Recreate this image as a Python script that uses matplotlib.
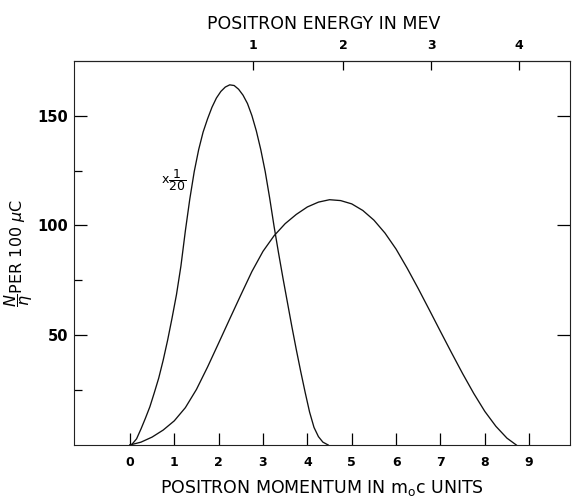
import numpy as np
import matplotlib
matplotlib.use('Agg')
import matplotlib.pyplot as plt
from matplotlib.ticker import FixedLocator

plt.rcParams['font.family'] = ['DejaVu Sans']
plt.rcParams['mathtext.fontset'] = 'dejavusans'

# spectre etroit (echelle x 1/20)
p_haut = [0.0, 0.05, 0.15, 0.25, 0.35, 0.45, 0.55, 0.65, 0.75, 0.85, 0.95, 1.05, 1.15,
          1.25, 1.35, 1.45, 1.55, 1.65, 1.75, 1.85, 1.95, 2.05, 2.15, 2.25, 2.35, 2.45,
          2.55, 2.65, 2.75, 2.85, 2.95, 3.05, 3.15, 3.25, 3.35, 3.45, 3.55, 3.65, 3.75,
          3.85, 3.95, 4.05, 4.15, 4.25, 4.35, 4.47]
n_haut = [0, 0.4, 2.8, 7.3, 12.2, 17.4, 23.8, 30.5, 38.6, 47.7, 57.8, 68.5, 81.5,
          97.5, 112, 124.5, 134.5, 142.5, 148.5, 153.8, 158, 161, 163, 164, 163.7, 162,
          159.3, 155.5, 150, 143, 134.5, 124.5, 112.5, 99.5, 87.5, 76, 65, 54, 43.5,
          33.5, 24, 15, 8, 3.8, 1.3, 0]

# spectre large
p_bas = [0.0, 0.25, 0.5, 0.75, 1.0, 1.25, 1.5, 1.75, 2.0, 2.25, 2.5, 2.75, 3.0, 3.25,
         3.5, 3.75, 4.0, 4.25, 4.5, 4.75, 5.0, 5.25, 5.5, 5.75, 6.0, 6.25, 6.5, 6.75,
         7.0, 7.25, 7.5, 7.75, 8.0, 8.25, 8.5, 8.71]
n_bas = [0, 1.3, 3.6, 6.8, 11, 17, 25.3, 35.5, 46.4, 57.4, 68.3, 79, 88.2, 95.3,
         100.8, 105, 108.4, 110.6, 111.7, 111.3, 109.8, 106.8, 102.4, 96.5, 89.2, 80.5,
         71.2, 61.5, 51.7, 42, 32.5, 23.5, 15.3, 8.5, 3.1, 0]

p_ticks = list(range(10))
e_ticks = [1, 2, 3, 4]
n_major = [50, 100, 150]
n_minor = [25, 75, 125]

me = 0.511  # MeV


def p2e(p):
    p = np.asarray(p, dtype=float)
    return np.sign(p) * (np.sqrt(p**2 + 1) - 1) * me


def e2p(e):
    e = np.asarray(e, dtype=float)
    g = np.abs(e) / me + 1
    return np.sign(e) * np.sqrt(g**2 - 1)


fig = plt.figure(figsize=(5.72, 5.0), dpi=100)
ax = fig.add_axes([74/572, 55/500, 496/572, 384.3/500])

cor = '#111111'
ax.plot(p_haut, n_haut, color=cor, lw=0.95)
ax.plot(p_bas, n_bas, color=cor, lw=0.95)

ax.set_xlim(-1.26, 9.92)
ax.set_ylim(0, 175)

for s in ax.spines.values():
    s.set_linewidth(0.8)
    s.set_color('#222222')

ax.xaxis.set_major_locator(FixedLocator(p_ticks))
ax.yaxis.set_major_locator(FixedLocator(n_major))
ax.yaxis.set_minor_locator(FixedLocator(n_minor))
ax.tick_params(axis='x', direction='in', length=8.5, width=0.9, pad=8,
               labelsize=9, top=False)
ax.tick_params(axis='y', which='major', direction='in', length=9.5, width=0.9,
               pad=4, labelsize=10.5, right=True)
ax.tick_params(axis='y', which='minor', direction='in', length=5.5, width=0.9)
for lab in ax.get_xticklabels() + ax.get_yticklabels():
    lab.set_fontweight('bold')

sec = ax.secondary_xaxis('top', functions=(p2e, e2p))
sec.xaxis.set_major_locator(FixedLocator(e_ticks))
sec.tick_params(direction='in', length=6.5, width=0.9, pad=6, labelsize=9)
for lab in sec.get_xticklabels():
    lab.set_fontweight('bold')
sec.spines['top'].set_linewidth(0.8)

ax.set_xlabel(r'POSITRON MOMENTUM IN m$_\mathrm{o}$c UNITS', fontsize=12.5)
ax.xaxis.set_label_coords(0.5, -0.113)
ax.xaxis.label.set_va('center')

fig.text(324/572, 1 - 24/500, 'POSITRON ENERGY IN MEV', fontsize=12.5,
         ha='center', va='center')

ax.set_ylabel(r'$\dfrac{N}{\eta}$PER 100 $\mu$C', fontsize=11.5)
ax.yaxis.set_label_coords(-0.112, 0.5)
ax.yaxis.label.set_va('center')

ax.text(0.98, 120.8, r'x$\dfrac{1}{20}$', fontsize=9, ha='center', va='center')

fig.savefig('out.png', dpi=100)
